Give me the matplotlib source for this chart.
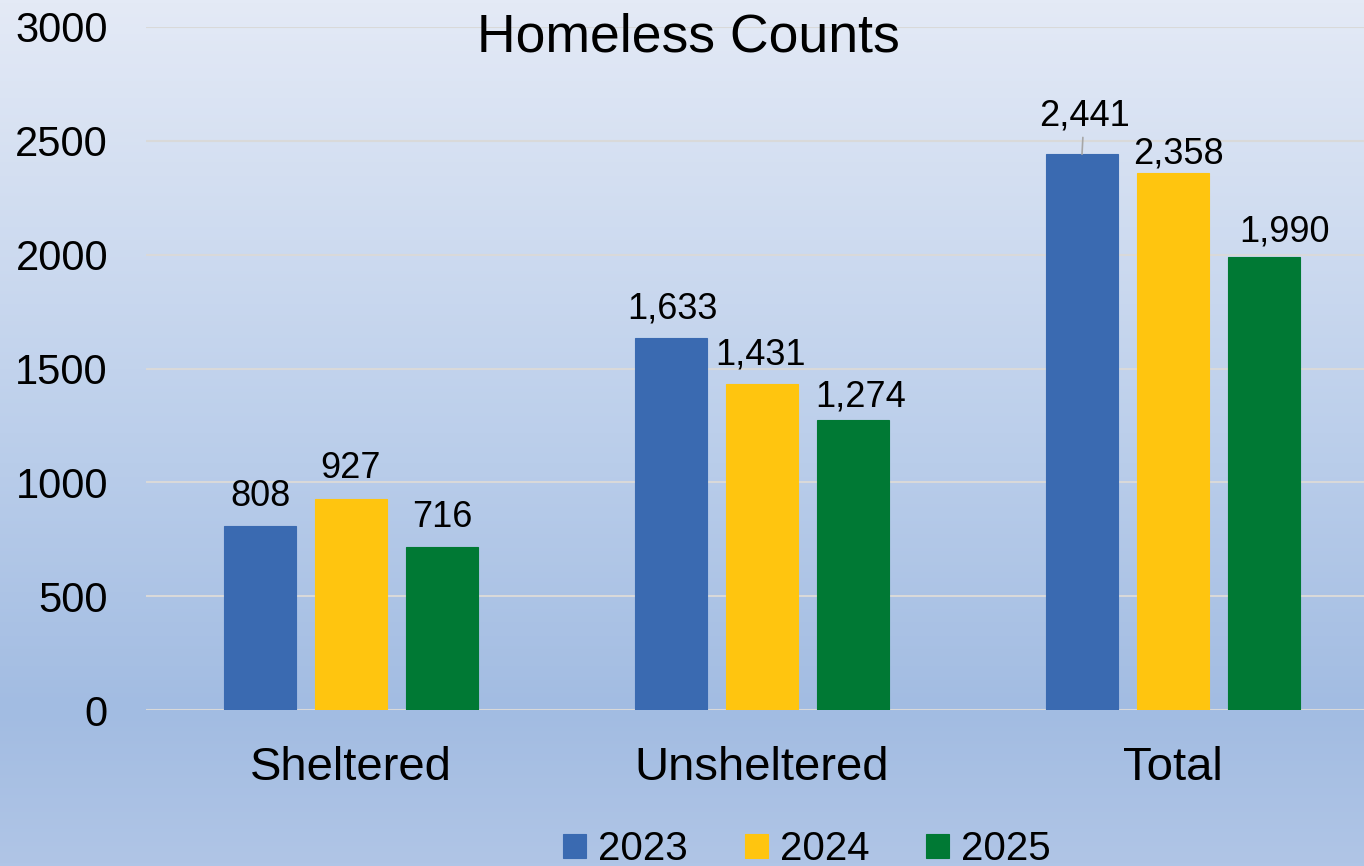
import matplotlib
matplotlib.use("Agg")
import matplotlib.pyplot as plt
import numpy as np
from matplotlib.colors import LinearSegmentedColormap

plt.rcParams['font.family'] = ['Liberation Sans', 'DejaVu Sans']

categories = ['Sheltered', 'Unsheltered', 'Total']
years = ['2023', '2024', '2025']
counts_2023 = [808, 1633, 2441]
counts_2024 = [927, 1431, 2358]
counts_2025 = [716, 1274, 1990]
colors = ['#3A6AB1', '#FFC50F', '#007934']

series = [counts_2023, counts_2024, counts_2025]

# label nudges in pixels (the labels were moved by hand in the original)
nudges = [[(0, 20), (1, 20), (2, 29)],
          [(0, 21), (-1, 20), (5, 10)],
          [(0, 20), (8, 13), (21, 15)]]

fig = plt.figure(figsize=(13.64, 8.66), dpi=100)

# gradient background
bg = fig.add_axes([0, 0, 1, 1], zorder=-10)
cmap = LinearSegmentedColormap.from_list(
    'bg', [(0.0, '#E4EAF6'), (0.5, '#BCCFEB'), (0.82, '#A2BCE2'), (1.0, '#B0C5E6')])
bg.imshow(np.linspace(0, 1, 256).reshape(-1, 1), aspect='auto', cmap=cmap,
          extent=[0, 1, 0, 1])
bg.axis('off')

ax = fig.add_axes([145.5 / 1364, 1 - 710 / 866, 1233 / 1364, 683 / 866])
ax.set_facecolor('none')

x = np.arange(len(categories))
width = 0.175
step = 0.2214
handles = []
for i, (vals, c) in enumerate(zip(series, colors)):
    bars = ax.bar(x + (i - 1) * step, vals, width, color=c,
                  edgecolor=c, linewidth=0.8, zorder=3, label=years[i])
    handles.append(bars)
    for j, b in enumerate(bars):
        dx, dy = nudges[i][j]
        h = b.get_height()
        kw = {}
        if i == 0 and j == 2:
            kw['arrowprops'] = dict(arrowstyle='-', color='#A6A6A6', lw=1.2,
                                    shrinkA=1, shrinkB=0)
        ax.annotate('{:,}'.format(h), xy=(b.get_x() + b.get_width() / 2, h),
                    xytext=(dx, dy), textcoords='offset pixels',
                    ha='center', va='baseline', fontsize=26, zorder=4, **kw)

ax.set_xlim(-0.5, 2.5)
ax.set_ylim(0, 3000)
ax.set_yticks(np.arange(0, 3001, 500))
ax.set_xticks(x)
ax.set_xticklabels(categories, fontsize=34)
ax.tick_params(axis='y', labelsize=30, length=0, pad=27)
ax.tick_params(axis='x', length=0, pad=26)
ax.yaxis.grid(True, color='#D9D9D9', linewidth=1.5, zorder=0)
ax.set_axisbelow(True)
for s in ax.spines.values():
    s.set_visible(False)

fig.text(688 / 1364, 1 - 52 / 866, 'Homeless Counts', ha='center',
         va='baseline', fontsize=38.5)

fig.legend(handles=handles, labels=years, loc='center', ncol=3,
           bbox_to_anchor=(807 / 1364, 1 - 849 / 866), frameon=False,
           fontsize=29, handlelength=0.58, handleheight=0.55,
           handletextpad=0.3, columnspacing=1.4, borderpad=0)

fig.savefig('out.png', dpi=100)
